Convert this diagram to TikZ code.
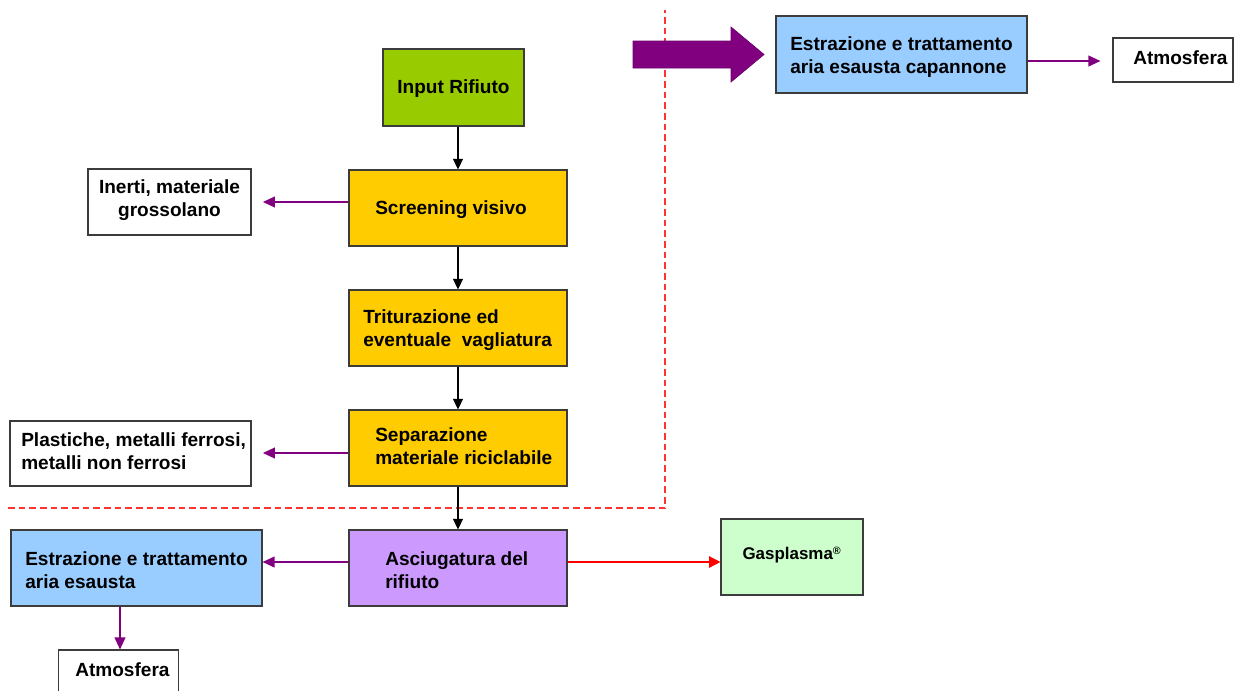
\documentclass[tikz,border=0pt]{standalone}
\usepackage{fontspec}
\setmainfont{Liberation Sans}
\usetikzlibrary{arrows.meta}
\definecolor{inputgreen}{HTML}{99CC00}
\definecolor{stepyellow}{HTML}{FFCC00}
\definecolor{drylilac}{HTML}{CC99FF}
\definecolor{airblue}{HTML}{99CCFF}
\definecolor{plasmagreen}{HTML}{CCFFCC}
\definecolor{flowpurple}{HTML}{800080}
\definecolor{borderdark}{HTML}{3C3C3C}
\definecolor{zonered}{HTML}{FF3333}

\begin{document}
\begin{tikzpicture}[x=0.75pt,y=-0.75pt,
  box/.style={draw=borderdark, line width=0.8pt, inner sep=0pt, rectangle},
  procbox/.style={box, fill=stepyellow, minimum width=163.5pt, minimum height=57pt},
  txt/.style={inner sep=0pt, anchor=west, align=left, font=\fontsize{14.3}{17.25}\selectfont\bfseries},
  ctxt/.style={txt, anchor=center, align=center},
  mainflow/.style={-{Triangle[length=8pt,width=7.5pt]}, line width=0.8pt, draw=black},
  sideflow/.style={-{Triangle[length=9pt,width=8pt]}, line width=1.3pt, draw=flowpurple},
  plasmaflow/.style={-{Triangle[length=8.5pt,width=8.5pt]}, line width=1pt, draw=red},
  boundary/.style={draw=zonered, line width=1.1pt, dash pattern=on 5pt off 3pt}
]
% page
\fill[white] (0,0) rectangle (1239,690);
\useasboundingbox (0,0) rectangle (1239,690);

% boundary of the enclosed hall
\coordinate (zoneL) at (8,508);
\coordinate (zoneC) at (665,508);
\coordinate (zoneT) at (665,10);
\draw[boundary] (zoneL) -- (zoneC) -- (zoneT);

% main process line
\node[box, fill=inputgreen, minimum width=105.75pt, minimum height=57.75pt] (input) at (453.5,87.5) {};
\node[ctxt] (input-t) at (453.5,89) {Input Rifiuto};

\node[procbox] (screen) at (458,208) {};
\node[txt] (screen-t) at (375,210) {Screening visivo};

\node[procbox] (shred) at (458,328) {};
\node[txt] (shred-t) at (363,330) {Triturazione ed\\eventuale~ vagliatura};

\node[procbox] (sep) at (458,448) {};
\node[txt] (sep-t) at (375,446) {Separazione\\materiale riciclabile};

\node[procbox, fill=drylilac] (dry) at (458,568) {};
\node[txt] (dry-t) at (385,570) {Asciugatura del\\rifiuto};

% side outputs
\node[box, fill=white, minimum width=122.25pt, minimum height=49.5pt] (inert) at (169.5,202) {};
\node[ctxt] (inert-t) at (169.5,200) {Inerti, materiale\\grossolano};

\node[box, fill=white, minimum width=180.75pt, minimum height=48.75pt] (recyc) at (130.5,453.5) {};
\node[txt] (recyc-t) at (21,451) {Plastiche, metalli ferrosi,\\metalli non ferrosi};

\node[box, fill=airblue, minimum width=188.25pt, minimum height=57pt] (air) at (136.5,568) {};
\node[txt] (air-t) at (25,570) {Estrazione e trattamento\\aria esausta};

\node[box, fill=white, minimum width=90pt, minimum height=33pt] (atmL) at (118.5,672) {};
\node[txt] (atmL-t) at (75,670) {Atmosfera};

\node[box, fill=plasmagreen, minimum width=106.5pt, minimum height=57pt] (plasma) at (792,557) {};
\node[inner sep=0pt, font=\fontsize{12.7}{15}\selectfont\bfseries] (plasma-t) at (792,555)
  {Gasplasma\textsuperscript{\fontsize{8}{9}\selectfont ®}};

% hall air treatment
\node[box, fill=airblue, minimum width=188.25pt, minimum height=57.75pt] (hall) at (901.5,54.5) {};
\node[txt] (hall-t) at (790,57) {Estrazione e trattamento\\aria esausta capannone};

\node[box, fill=white, minimum width=90pt, minimum height=33pt] (atmR) at (1173,60) {};
\node[txt] (atmR-t) at (1133,58) {Atmosfera};

% block arrow into the hall treatment
\draw[fill=flowpurple, draw=flowpurple!85!black, line width=0.5pt]
  (633,41) -- (731,41) -- (731,27) -- (764,54.5) -- (731,82) -- (731,68) -- (633,68) -- cycle;

% connectors
\draw[mainflow] (input.south -| screen.north) -- (screen.north);
\draw[mainflow] (screen) -- (shred);
\draw[mainflow] (shred) -- (sep);
\draw[mainflow] (sep) -- (dry);

\draw[sideflow, shorten >=8.5pt] (screen.west |- 0,202) -- (inert.east |- 0,202);
\draw[sideflow, shorten >=8.5pt] (sep.west |- 0,453) -- (recyc.east |- 0,453);
\draw[sideflow] (dry.west |- 0,562) -- (air.east |- 0,562);
\draw[sideflow] (air.south -| 120,0) -- (atmL.north -| 120,0);
\draw[sideflow, shorten >=9pt] (hall.east |- 0,61) -- (atmR.west |- 0,61);
\draw[plasmaflow] (dry.east |- 0,562) -- (plasma.west |- 0,562);
\end{tikzpicture}
\end{document}
